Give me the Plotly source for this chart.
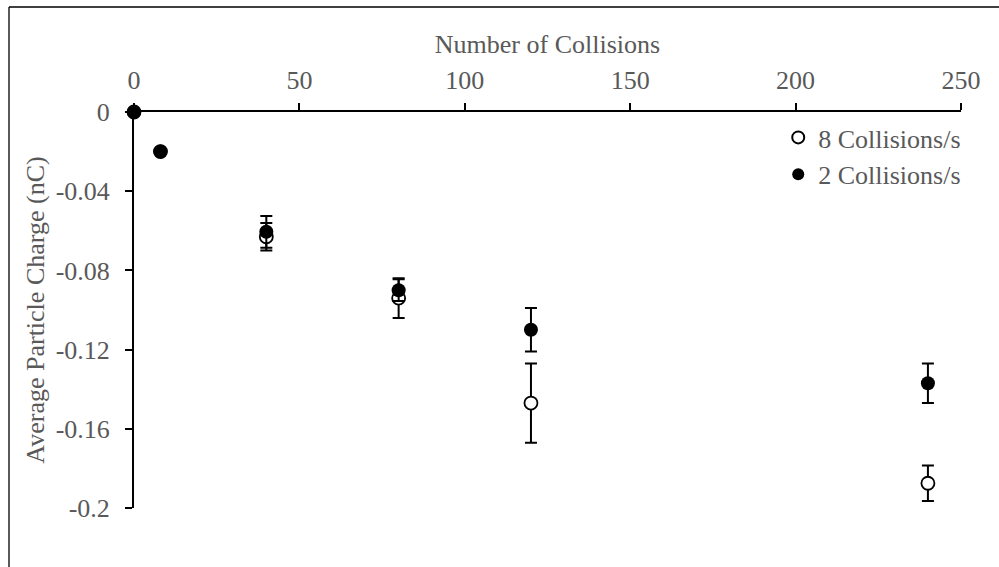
import plotly.graph_objects as go

collisions = [0, 8, 40, 80, 120, 240]
charge_8 = [0, -0.02, -0.063, -0.094, -0.147, -0.1875]
err_8 = [0, 0, 0.007, 0.010, 0.020, 0.009]
charge_2 = [0, -0.02, -0.0605, -0.090, -0.110, -0.137]
err_2 = [0, 0, 0.008, 0.0055, 0.011, 0.010]
y_ticks = [0, -0.04, -0.08, -0.12, -0.16, -0.2]
y_tick_labels = ["0", "-0.04", "-0.08", "-0.12", "-0.16", "-0.2"]
x_ticks = [0, 50, 100, 150, 200, 250]

FONT = "Liberation Serif, Times New Roman, serif"
GRAY = "#595959"
FS = 26

fig = go.Figure()
fig.add_trace(go.Scatter(
    x=collisions, y=charge_8, mode="markers", name="8 Collisions/s", cliponaxis=False,
    marker=dict(symbol="circle", size=13, color="white", line=dict(color="black", width=1.8)),
    error_y=dict(type="data", array=err_8, visible=True, color="black", thickness=2, width=6),
))
fig.add_trace(go.Scatter(
    x=collisions, y=charge_2, mode="markers", name="2 Collisions/s", cliponaxis=False,
    marker=dict(symbol="circle", size=14, color="black", line=dict(color="black", width=0)),
    error_y=dict(type="data", array=err_2, visible=True, color="black", thickness=2, width=6),
))

L, R, T, B = 134, 38, 112, 59
W, H = 999, 567
pw, ph = W - L - R, H - T - B

fig.update_layout(
    width=W, height=H,
    margin=dict(l=L, r=R, t=T, b=B),
    paper_bgcolor="white", plot_bgcolor="white",
    font=dict(family=FONT, size=FS, color=GRAY),
    showlegend=True,
    legend=dict(x=0.779, y=0.995, xanchor="left", yanchor="top",
                font=dict(family=FONT, size=FS, color=GRAY),
                bgcolor="rgba(0,0,0,0)", itemsizing="constant",
                tracegroupgap=0, itemwidth=30),
    xaxis=dict(
        side="top", range=[0, 250], tickvals=x_ticks,
        showline=True, linecolor="black", linewidth=2,
        ticks="outside", ticklen=7, tickwidth=2, tickcolor="black",
        showgrid=False, zeroline=False, ticklabelstandoff=4,
        tickfont=dict(family=FONT, size=FS, color=GRAY),
        title=dict(text="Number of Collisions", font=dict(family=FONT, size=FS, color=GRAY), standoff=4),
    ),
    yaxis=dict(
        range=[-0.2, 0], tickvals=y_ticks, ticktext=y_tick_labels,
        showline=True, linecolor="black", linewidth=2,
        ticks="outside", ticklen=7, tickwidth=2, tickcolor="black",
        showgrid=False, zeroline=False, ticklabelstandoff=10,
        tickfont=dict(family=FONT, size=FS, color=GRAY),
        title=dict(text="Average Particle Charge (nC)", font=dict(family=FONT, size=FS, color=GRAY), standoff=4),
    ),
)

# chart-area border (top and left edges visible; right/bottom fall outside the image)
bx0 = (9 - L) / pw
by0 = 1 + (T - 7) / ph
fig.add_shape(type="line", xref="paper", yref="paper", x0=bx0, x1=1 + (R + 10) / pw, y0=by0, y1=by0,
              line=dict(color="black", width=1.3))
fig.add_shape(type="line", xref="paper", yref="paper", x0=bx0, x1=bx0, y0=by0, y1=-(B + 10) / ph,
              line=dict(color="black", width=1.3))

fig.write_html("out.html")
